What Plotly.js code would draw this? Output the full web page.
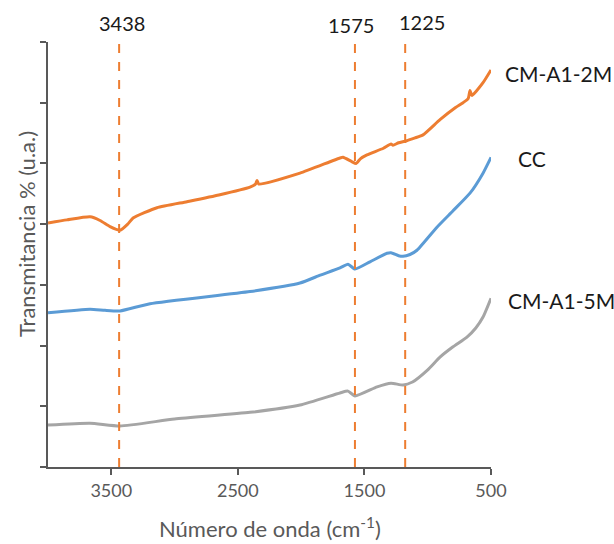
<!DOCTYPE html>
<html>
<head>
<meta charset="utf-8">
<script src="https://cdn.plot.ly/plotly-3.0.1.min.js"></script>
<style>html,body{margin:0;padding:0;background:#fff;}#chart{width:614px;height:544px;}</style>
</head>
<body>
<div id="chart"></div>
<script>
// Series: CM-A1-2M (orange)
const wnA2 = [4000,3850,3668,3589,3510,3431,3370,3328,3139,2902,2650,2404,2360,2349,2335,2009,1693,1669,1600,1566,1530,1480,1350,1290,1274,1230,1171,1100,1037,903,780,721,680,666,650,563,500];
const tA2  = [4.02,4.07,4.12,4.06,3.96,3.90,4.00,4.10,4.27,4.37,4.48,4.61,4.66,4.72,4.66,4.84,5.09,5.10,5.03,5.00,5.08,5.14,5.25,5.32,5.30,5.34,5.37,5.42,5.47,5.72,5.92,6.00,6.07,6.20,6.12,6.33,6.54];
// Series: CC (blue)
const wnCC = [4000,3668,3550,3431,3194,2404,2009,1849,1693,1630,1574,1456,1322,1290,1230,1195,1140,1085,927,800,666,563,500];
const tCC  = [2.54,2.60,2.58,2.57,2.69,2.89,3.03,3.16,3.28,3.34,3.26,3.38,3.52,3.53,3.48,3.47,3.50,3.57,3.95,4.22,4.51,4.84,5.10];
// Series: CM-A1-5M (gray)
const wnA5 = [4000,3668,3431,3000,2404,2009,1693,1630,1574,1400,1290,1195,1120,1000,903,800,690,620,563,500];
const tA5  = [0.69,0.72,0.675,0.79,0.90,1.02,1.22,1.25,1.17,1.32,1.38,1.35,1.40,1.60,1.81,1.98,2.14,2.29,2.47,2.78];

const seriesNames = ['CM-A1-2M','CC','CM-A1-5M'];
const xTicks = [3500,2500,1500,500];
const yTicks = [0,1,2,3,4,5,6,7];
// marker lines: drawn positions and their labels
const peakPos = [3438,1575,1178];
const peakLabels = ['3438','1575','1225'];

const FONT = 'Lato, "Liberation Sans", sans-serif';
const orange = '#ED7D31', blue = '#5B9BD5', gray = '#A5A5A5';

const traces = [
  {x: wnA2, y: tA2, name: seriesNames[0], mode:'lines', line:{color:orange,width:3,shape:'spline',smoothing:0.5}},
  {x: wnCC, y: tCC, name: seriesNames[1], mode:'lines', line:{color:blue,width:3,shape:'spline',smoothing:0.5}},
  {x: wnA5, y: tA5, name: seriesNames[2], mode:'lines', line:{color:gray,width:3,shape:'spline',smoothing:0.5}}
];

const shapes = peakPos.map(p => ({type:'line', xref:'x', yref:'paper', x0:p, x1:p, y0:0, y1:1.005,
  line:{color:orange, width:2, dash:'dash'}}));

const annotations = [];
const labelOffsets = [[0,-19],[-7,-17],[14,-20]];
peakPos.forEach((p,i) => annotations.push({x:p, y:1, xref:'x', yref:'paper', text:peakLabels[i], showarrow:false,
  xanchor:'center', yanchor:'middle', xshift:labelOffsets[i][0]+3, yshift:-labelOffsets[i][1],
  font:{family:FONT, size:20, color:'#1a1a1a'}}));
// series labels (paper-positioned next to line ends)
const sLab = [[503,73],[516,158],[506,300]];
seriesNames.forEach((n,i) => annotations.push({x:(sLab[i][0]-48)/443, y:(467-sLab[i][1])/425, xref:'paper', yref:'paper',
  text:n, showarrow:false, xanchor:'left', yanchor:'middle', font:{family:FONT, size:21, color:'#1a1a1a'}}));
// axis titles
annotations.push({x:0.5, y:(467-527)/425, xref:'paper', yref:'paper', text:'Número de onda (cm<sup>-1</sup>)', showarrow:false,
  xanchor:'center', yanchor:'middle', font:{family:FONT, size:22, color:'#595959'}});
annotations.push({x:(26-48)/443, y:(467-234)/425, xref:'paper', yref:'paper', text:'Transmitancia % (u.a.)', showarrow:false,
  textangle:-90, xanchor:'center', yanchor:'middle', font:{family:FONT, size:22, color:'#595959'}});

const layout = {
  width:614, height:544,
  margin:{l:48, r:123, t:42, b:77, pad:0},
  paper_bgcolor:'#fff', plot_bgcolor:'#fff',
  showlegend:false,
  xaxis:{range:[4000,500], tickvals:xTicks, ticktext:xTicks.map(String), showgrid:false, zeroline:false,
    showline:true, linecolor:'#595959', linewidth:2, ticks:'outside', ticklen:6, tickwidth:2, tickcolor:'#595959',
    tickfont:{family:FONT, size:18, color:'#595959'}, fixedrange:true},
  yaxis:{range:[0,7], tickvals:yTicks, showticklabels:false, showgrid:false, zeroline:false,
    showline:true, linecolor:'#595959', linewidth:2, ticks:'outside', ticklen:6, tickwidth:2, tickcolor:'#595959', fixedrange:true},
  shapes:shapes, annotations:annotations
};

Plotly.newPlot('chart', traces, layout, {displayModeBar:false, staticPlot:true});
</script>
</body>
</html>
